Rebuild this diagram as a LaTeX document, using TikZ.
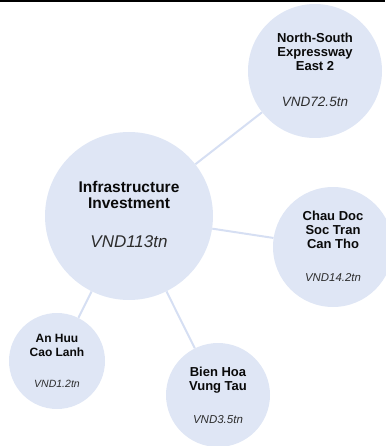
\documentclass[tikz,border=0pt]{standalone}
\usepackage{fontspec}
\setmainfont{Liberation Sans}
\usetikzlibrary{calc,positioning}

\definecolor{bubblefill}{RGB}{223,230,245}
\definecolor{linkcol}{RGB}{214,223,243}
\definecolor{inkcol}{RGB}{10,10,10}
\definecolor{valcol}{RGB}{45,45,45}

\tikzset{
  bubble/.style={circle,fill=bubblefill,draw=none,inner sep=0pt,minimum size=#1},
  link/.style={draw=linkcol,line width=2pt},
  ttl/.style 2 args={font=\fontsize{#1}{#2}\selectfont\bfseries,text=inkcol,align=center,anchor=base,inner sep=0pt},
  val/.style={font=\fontsize{#1}{#1}\selectfont\itshape,text=valcol,anchor=base,inner sep=0pt}
}

\begin{document}
\begin{tikzpicture}[x=1pt,y=-1pt]

  \useasboundingbox (0,0) rectangle (385,446);
  \draw[line width=2pt] (0,1) -- (385,1);

  %% bubbles
  \node (hub) [bubble=168pt] at (129,216) {};
  \node (ns_exp) [bubble=134pt] at (315,71) {};
  \node (chau_doc) [bubble=120pt] at (333,247) {};
  \node (an_huu) [bubble=96pt] at (57,361) {};
  \node (bien_hoa) [bubble=104pt] at (218,395) {};

  %% links
  \draw[link] (hub) -- (ns_exp);
  \draw[link] (hub) -- (chau_doc);
  \draw[link] (hub) -- (an_huu);
  \draw[link] (hub) -- (bien_hoa);

  %% labels (base = baseline of the last line)
  \node (hub_ttl) [ttl={15.5}{16}] at (129,208) {Infrastructure\\Investment};
  \node (hub_val) [val=17] at (129,247) {VND113tn};

  \node (ns_ttl) [ttl={13}{14}] at (315,71) {North-South\\Expressway\\East 2};
  \node (ns_val) [val=13.5] at (315,107) {VND72.5tn};

  \node (chau_ttl) [ttl={13}{14}] at (333,248) {Chau Doc\\Soc Tran\\Can Tho};
  \node (chau_val) [val=11.4] at (333,281) {VND14.2tn};

  \node (an_ttl) [ttl={12}{14}] at (57,356) {An Huu\\Cao Lanh};
  \node (an_val) [val=10.5] at (57,387) {VND1.2tn};

  \node (bien_ttl) [ttl={13}{14}] at (218,390) {Bien Hoa\\Vung Tau};
  \node (bien_val) [val=11.5] at (218,423) {VND3.5tn};

\end{tikzpicture}
\end{document}
